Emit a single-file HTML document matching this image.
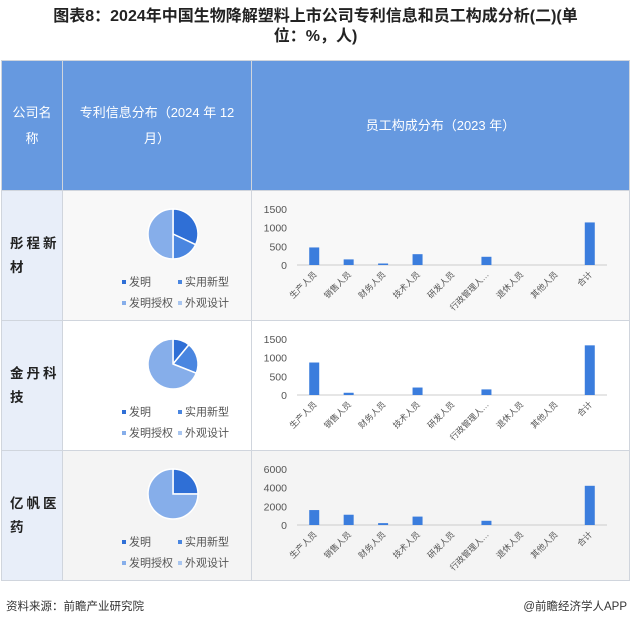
<!DOCTYPE html>
<html><head><meta charset="utf-8">
<style>
body{margin:0;width:631px;height:625px;background:#fff;font-family:"Liberation Sans","Noto Sans CJK SC",sans-serif;position:relative;overflow:hidden}
.title{position:absolute;left:0;top:7px;width:631px;text-align:center;font-weight:bold;font-size:16px;line-height:20px;color:#222}
table{position:absolute;left:1px;top:60px;border-collapse:collapse;}
td{border:1px solid #d0d5dd;padding:0;}
.h td{background:#6699e0;color:#fff;font-size:13px;text-align:center;height:129px;line-height:26px}
.name{background:#e8eef9;font-weight:bold;font-size:13.5px;color:#222;letter-spacing:3px;line-height:24px;padding-left:8px}
.foot{position:absolute;top:598px;font-size:11.5px;color:#333}
</style></head><body>
<div class="title">图表8：2024年中国生物降解塑料上市公司专利信息和员工构成分析(二)(单<br>位：%，人)</div>
<table>
<tr class="h"><td style="width:60px">公司名<br>称</td><td style="width:188px">专利信息分布（2024 年 12<br>月）</td><td style="width:377px">员工构成分布（2023 年）</td></tr>
<tr style="height:130px;background:#f8f8f8"><td class="name">彤程新<br>材</td><td id="p0"></td><td id="b0"></td></tr>
<tr style="height:130px;background:#fff"><td class="name">金丹科<br>技</td><td id="p1"></td><td id="b1"></td></tr>
<tr style="height:129px;background:#f4f4f4"><td class="name">亿帆医<br>药</td><td id="p2"></td><td id="b2"></td></tr>
</table>
<div class="foot" style="left:6px">资料来源：前瞻产业研究院</div>
<div class="foot" style="right:4px">@前瞻经济学人APP</div>
<script>
const patentLabels=["发明","实用新型","发明授权","外观设计"];
const pie1=[32,18,50,0];
const pie2=[11,20,69,0];
const pie3=[25,0,75,0];
const categories=["生产人员","销售人员","财务人员","技术人员","研发人员","行政管理人…","退休人员","其他人员","合计"];
const staff1=[470,150,40,290,0,220,0,0,1140];
const staff2=[870,60,0,200,0,150,0,0,1330];
const staff3=[1600,1100,200,900,0,450,0,0,4200];
const ticks1=[0,500,1000,1500];
const ticks2=[0,500,1000,1500];
const ticks3=[0,2000,4000,6000];
const NS="http://www.w3.org/2000/svg";
const colors=["#2f6fd6","#4a86e0","#86aeea","#a9c6f0"];
function mk(t,a,p){const e=document.createElementNS(NS,t);for(const k in a)e.setAttribute(k,a[k]);p.appendChild(e);return e;}
function pie(id,vals){
  const cell=document.getElementById(id);
  const s=mk("svg",{width:188,height:129,style:"display:block"},cell);
  
  
  const cx=110,cy=43,r=25;const tot=vals.reduce((a,b)=>a+b,0);let a0=0;
  vals.forEach((v,i)=>{if(v<=0)return;const a1=a0+v/tot*2*Math.PI;
    const x0=cx+r*Math.sin(a0),y0=cy-r*Math.cos(a0),x1=cx+r*Math.sin(a1),y1=cy-r*Math.cos(a1);
    const p=mk("path",{d:`M${cx},${cy}L${x0},${y0}A${r},${r} 0 ${a1-a0>Math.PI?1:0} 1 ${x1},${y1}Z`,fill:colors[i],stroke:"#fff","stroke-width":1.5},s);
    
    
    a0=a1;});
  patentLabels.forEach((l,i)=>{const x=59+(i%2)*56,y=94+Math.floor(i/2)*21;
    mk("rect",{x:x,y:y-5,width:4,height:4,fill:colors[i]},s);
    const t=mk("text",{x:x+7,y:y+0.5,"font-size":11,fill:"#555"},s);t.textContent=l;
    
    });
}
function bars(id,vals,ticks){
  const cell=document.getElementById(id);
  const s=mk("svg",{width:377,height:129,style:"display:block"},cell);
  
  
  const y0=74,h=56,max=ticks[ticks.length-1],x0=45,x1=355;
  const y=v=>y0-v/max*h;const bw=(x1-x0)/categories.length;
  ticks.forEach(t=>{const tx=mk("text",{x:35,y:y(t)+4,"font-size":10.5,fill:"#555","text-anchor":"end"},s);tx.textContent=t;
    
    });
  mk("line",{x1:x0,x2:x1,y1:y0,y2:y0,stroke:"#ccc"},s);
  vals.forEach((v,i)=>{const cx=x0+bw*(i+0.5);
    const r=mk("rect",{x:cx-5,y:y(v),width:10,height:y0-y(v),fill:"#3b7ddd"},s);
    
    
    const t=mk("text",{x:cx+3,y:y0+10,"font-size":8.5,fill:"#555","text-anchor":"end",transform:`rotate(-45 ${cx+3} ${y0+10})`},s);
    t.textContent=categories[i];
    
    });
}
pie("p0",pie1);pie("p1",pie2);pie("p2",pie3);
bars("b0",staff1,ticks1);bars("b1",staff2,ticks2);bars("b2",staff3,ticks3);
</script>
</body></html>
